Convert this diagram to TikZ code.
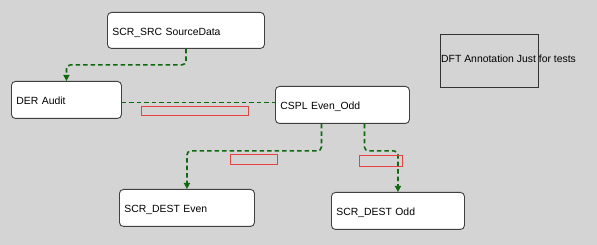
\documentclass[tikz,border=0pt]{standalone}
\usepackage{fontspec}
\setmainfont{Liberation Sans}
\usetikzlibrary{arrows.meta, positioning}

\definecolor{bg}{RGB}{212,212,212}
\definecolor{flowgreen}{RGB}{16,104,16}
\definecolor{lblred}{RGB}{236,64,64}

\begin{document}
\begin{tikzpicture}[x=1pt,y=-1pt,
    comp/.style={draw=black!75, fill=white, rounded corners=4pt, line width=0.9pt,
      anchor=north west, inner sep=5pt, align=left, text height=10pt, text depth=0pt,
      font=\fontsize{10.4}{12}\selectfont},
    flow/.style={draw=flowgreen, line width=1.6pt, dash pattern=on 4.5pt off 3pt, rounded corners=4pt},
    >={Triangle[length=6pt,width=6pt]},
    lbl/.style={draw=lblred, line width=0.8pt, inner sep=0pt}]

      \fill[bg] (0,0) rectangle (597,245);
      \useasboundingbox (0,0) rectangle (597,245);

      % components
      \node[comp, minimum width=157pt, minimum height=36pt, text width=147pt] (src) at (107,12) {SCR\_SRC SourceData};
      \node[comp, minimum width=110pt, minimum height=37pt, text width=100pt] (der) at (11,81) {DER Audit};
      \node[comp, minimum width=134pt, minimum height=37pt, text width=124pt] (cspl) at (275,86) {CSPL Even\_Odd};
      \node[comp, minimum width=135pt, minimum height=37pt, text width=125pt] (even) at (119,189) {SCR\_DEST Even};
      \node[comp, minimum width=133pt, minimum height=37pt, text width=123pt] (odd) at (331,192) {SCR\_DEST Odd};

      % annotation
      \node[draw=black!80, line width=0.9pt, minimum width=98pt, minimum height=53pt, inner sep=0pt, anchor=north west] (ann) at (440,34) {};
      \node[anchor=west, inner sep=1pt, yshift=2.5pt, font=\fontsize{10.4}{12}\selectfont] (annt) at (ann.west) {DFT Annotation Just for tests};

      % paths
      \draw[flow, ->] (src.south) -- ++(0,16) -| (der.north);
      \draw[flow] ([yshift=-2.5pt]der.east) -- ([yshift=-2.5pt]der.east -| cspl.west);
      \draw[flow, ->] ([xshift=-21pt]cspl.south) -- ++(0,27) -| (even.north);
      \draw[flow, ->] ([xshift=22pt]cspl.south) -- ++(0,27) -| (odd.north);

      % empty labels
      \node[lbl, minimum width=107pt, minimum height=9pt] (l1) at (194.5,110.5) {};
      \node[lbl, minimum width=47pt, minimum height=10pt] (l2) at (253.5,159) {};
      \node[lbl, minimum width=43pt, minimum height=11pt] (l3) at (380.5,160.5) {};

\end{tikzpicture}
\end{document}
